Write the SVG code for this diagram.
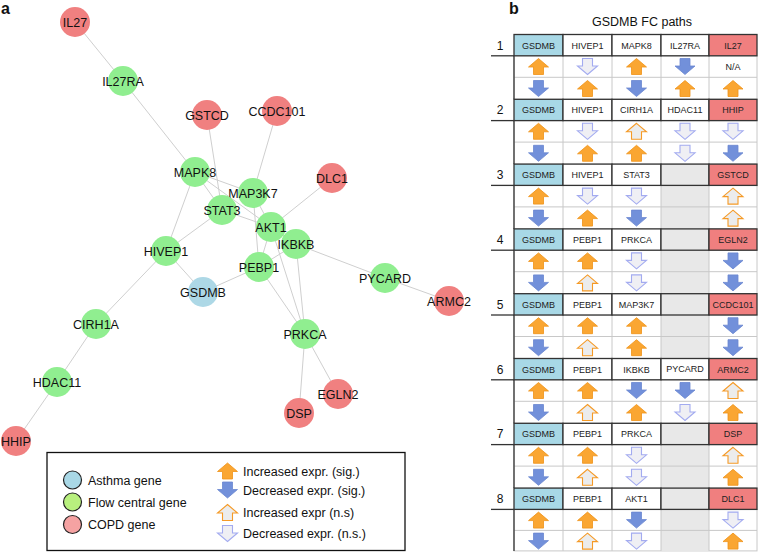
<svg xmlns="http://www.w3.org/2000/svg" xmlns:xlink="http://www.w3.org/1999/xlink" width="759" height="552" viewBox="0 0 759 552">
<style>
text{font-family:"Liberation Sans",Arial,sans-serif;fill:#111}
.nl{font-size:12.5px;text-anchor:middle}
.edge{stroke:#cfcfcf;stroke-width:1;fill:none}
.g{fill:#90ee90}.r{fill:#f08080}.b{fill:#add8e6}
.ct{font-size:9px;text-anchor:middle;fill:#222}
.hd{stroke:#333;stroke-width:1.3}
.lt{stroke:#c8c8c8;stroke-width:1;fill:none}
.uf{fill:#faa632;stroke:#ef9217;stroke-width:0.8}
.df{fill:#7290da;stroke:#6a86d0;stroke-width:0.8}
.uh{fill:#ececec;stroke:#f59a26;stroke-width:1.1}
.dh{fill:#efeff4;stroke:#a3abf0;stroke-width:1.1}
.gb{fill:#a8d8e6}.cr{fill:#f07f7f}.em{fill:#e8e8e8}.wh{fill:#fff}
.lg{font-size:12.5px}
</style>
<defs>
<path id="up" d="M0,-8 L10,0.5 L5,0.5 L5,8 L-5,8 L-5,0.5 L-10,0.5 Z"/>
<path id="dn" d="M0,8 L10,-0.5 L5,-0.5 L5,-8 L-5,-8 L-5,-0.5 L-10,-0.5 Z"/>
</defs>
<rect width="759" height="552" fill="#fff"/>
<text x="1" y="14" style="font-size:16px;font-weight:bold">a</text>
<text x="509" y="14" style="font-size:16px;font-weight:bold">b</text>

<g id="connectors">
<line class="edge" x1="75" y1="22" x2="123" y2="81"/>
<line class="edge" x1="123" y1="81" x2="195" y2="172"/>
<line class="edge" x1="207" y1="115" x2="222" y2="210"/>
<line class="edge" x1="277" y1="111" x2="253" y2="193"/>
<line class="edge" x1="332" y1="178" x2="271" y2="227"/>
<line class="edge" x1="195" y1="172" x2="253" y2="193"/>
<line class="edge" x1="195" y1="172" x2="222" y2="210"/>
<line class="edge" x1="195" y1="172" x2="271" y2="227"/>
<line class="edge" x1="195" y1="172" x2="166" y2="251"/>
<line class="edge" x1="222" y1="210" x2="271" y2="227"/>
<line class="edge" x1="222" y1="210" x2="166" y2="251"/>
<line class="edge" x1="253" y1="193" x2="271" y2="227"/>
<line class="edge" x1="253" y1="193" x2="259" y2="267"/>
<line class="edge" x1="271" y1="227" x2="259" y2="267"/>
<line class="edge" x1="271" y1="227" x2="296" y2="244"/>
<line class="edge" x1="271" y1="227" x2="305" y2="334"/>
<line class="edge" x1="296" y1="244" x2="305" y2="334"/>
<line class="edge" x1="259" y1="267" x2="305" y2="334"/>
<line class="edge" x1="259" y1="267" x2="296" y2="244"/>
<line class="edge" x1="296" y1="244" x2="385" y2="278"/>
<line class="edge" x1="385" y1="278" x2="449" y2="301"/>
<line class="edge" x1="305" y1="334" x2="338" y2="394"/>
<line class="edge" x1="305" y1="334" x2="299" y2="413"/>
<line class="edge" x1="166" y1="251" x2="203" y2="292"/>
<line class="edge" x1="203" y1="292" x2="259" y2="267"/>
<line class="edge" x1="166" y1="251" x2="96" y2="324"/>
<line class="edge" x1="96" y1="324" x2="57" y2="382"/>
<line class="edge" x1="57" y1="382" x2="16" y2="441"/>
</g>

<g id="IL27"><circle class="r" cx="75" cy="22" r="15"/><text class="nl" x="75" y="26.5">IL27</text></g>
<g id="IL27RA"><circle class="g" cx="123" cy="81" r="15"/><text class="nl" x="123" y="85.5">IL27RA</text></g>
<g id="GSTCD"><circle class="r" cx="207" cy="115" r="15"/><text class="nl" x="207" y="119.5">GSTCD</text></g>
<g id="CCDC101"><circle class="r" cx="277" cy="111" r="15"/><text class="nl" x="277" y="115.5">CCDC101</text></g>
<g id="DLC1"><circle class="r" cx="332" cy="178" r="15"/><text class="nl" x="332" y="182.5">DLC1</text></g>
<g id="MAPK8"><circle class="g" cx="195" cy="172" r="15"/><text class="nl" x="195" y="176.5">MAPK8</text></g>
<g id="MAP3K7"><circle class="g" cx="253" cy="193" r="15"/><text class="nl" x="253" y="197.5">MAP3K7</text></g>
<g id="STAT3"><circle class="g" cx="222" cy="210" r="15"/><text class="nl" x="222" y="214.5">STAT3</text></g>
<g id="AKT1"><circle class="g" cx="271" cy="227" r="15"/><text class="nl" x="271" y="231.5">AKT1</text></g>
<g id="IKBKB"><circle class="g" cx="296" cy="244" r="15"/><text class="nl" x="296" y="248.5">IKBKB</text></g>
<g id="PEBP1"><circle class="g" cx="259" cy="267" r="15"/><text class="nl" x="259" y="271.5">PEBP1</text></g>
<g id="HIVEP1"><circle class="g" cx="166" cy="251" r="15"/><text class="nl" x="166" y="255.5">HIVEP1</text></g>
<g id="GSDMB"><circle class="b" cx="203" cy="292" r="15"/><text class="nl" x="203" y="296.5">GSDMB</text></g>
<g id="PYCARD"><circle class="g" cx="385" cy="278" r="15"/><text class="nl" x="385" y="282.5">PYCARD</text></g>
<g id="ARMC2"><circle class="r" cx="449" cy="301" r="15"/><text class="nl" x="449" y="305.5">ARMC2</text></g>
<g id="PRKCA"><circle class="g" cx="305" cy="334" r="15"/><text class="nl" x="305" y="338.5">PRKCA</text></g>
<g id="EGLN2"><circle class="r" cx="338" cy="394" r="15"/><text class="nl" x="338" y="398.5">EGLN2</text></g>
<g id="DSP"><circle class="r" cx="299" cy="413" r="15"/><text class="nl" x="299" y="417.5">DSP</text></g>
<g id="CIRH1A"><circle class="g" cx="96" cy="324" r="15"/><text class="nl" x="96" y="328.5">CIRH1A</text></g>
<g id="HDAC11"><circle class="g" cx="57" cy="382" r="15"/><text class="nl" x="57" y="386.5">HDAC11</text></g>
<g id="HHIP"><circle class="r" cx="16" cy="441" r="15"/><text class="nl" x="16" y="445.5">HHIP</text></g>

<g id="legend">
<rect x="47" y="452.5" width="358" height="98" fill="#fff" stroke="#111" stroke-width="1.3"/>
<circle cx="72.5" cy="480" r="9" fill="#a9d8e6" stroke="#222" stroke-width="1.2"/>
<circle cx="72.5" cy="502" r="9" fill="#b8f07e" stroke="#222" stroke-width="1.2"/>
<circle cx="72.5" cy="524.5" r="9" fill="#f5a2a2" stroke="#222" stroke-width="1.2"/>
<text class="lg" x="88" y="484.5">Asthma gene</text>
<text class="lg" x="88" y="506.5">Flow central gene</text>
<text class="lg" x="88" y="529">COPD gene</text>
<use href="#up" class="uf" x="227.5" y="471"/>
<use href="#dn" class="df" x="227.5" y="490"/>
<use href="#up" class="uh" x="227.5" y="512.5"/>
<use href="#dn" class="dh" x="227.5" y="533.5"/>
<text class="lg" x="243" y="475.5">Increased expr. (sig.)</text>
<text class="lg" x="243" y="494.5">Decreased expr. (sig.)</text>
<text class="lg" x="243" y="517">Increased expr (n.s)</text>
<text class="lg" x="243" y="538">Decreased expr. (n.s.)</text>
</g>

<g id="table">
<text x="642" y="26" style="font-size:12.5px;text-anchor:middle">GSDMB FC paths</text>
<g id="p1" transform="translate(0,34.5)">
<rect class="wh lt" x="514" y="21.3" width="243" height="43.5"/>
<line class="lt" x1="514" y1="42.8" x2="757" y2="42.8"/>
<path class="lt" d="M563,21.3V64.8M612,21.3V64.8M661,21.3V64.8M709,21.3V64.8"/>
<line class="hd" x1="514" y1="21.3" x2="514" y2="64.8"/>
<rect class="gb hd" x="514" y="0" width="49" height="21.3"/><rect class="wh hd" x="563" y="0" width="49" height="21.3"/><rect class="wh hd" x="612" y="0" width="49" height="21.3"/><rect class="wh hd" x="661" y="0" width="48" height="21.3"/><rect class="cr hd" x="709" y="0" width="48" height="21.3"/>
<text class="ct" x="538.5" y="14">GSDMB</text><text class="ct" x="587.5" y="14">HIVEP1</text><text class="ct" x="636.5" y="14">MAPK8</text><text class="ct" x="685" y="14">IL27RA</text><text class="ct" x="733" y="14">IL27</text>
<text x="500" y="15" style="font-size:12px;text-anchor:middle">1</text><line class="hd" x1="491" y1="21.3" x2="514" y2="21.3"/>
<use href="#up" class="uf" x="538.5" y="32"/><use href="#dn" class="dh" x="587.5" y="32"/><use href="#up" class="uf" x="636.5" y="32"/><use href="#dn" class="df" x="685" y="32"/><text class="ct" x="733" y="35.5">N/A</text>
<use href="#dn" class="df" x="538.5" y="54"/><use href="#up" class="uf" x="587.5" y="54"/><use href="#dn" class="df" x="636.5" y="54"/><use href="#up" class="uf" x="685" y="54"/><use href="#up" class="uf" x="733" y="54"/>
</g>
<g id="p2" transform="translate(0,99.3)">
<rect class="wh lt" x="514" y="21.3" width="243" height="43.5"/>
<line class="lt" x1="514" y1="42.8" x2="757" y2="42.8"/>
<path class="lt" d="M563,21.3V64.8M612,21.3V64.8M661,21.3V64.8M709,21.3V64.8"/>
<line class="hd" x1="514" y1="21.3" x2="514" y2="64.8"/>
<rect class="gb hd" x="514" y="0" width="49" height="21.3"/><rect class="wh hd" x="563" y="0" width="49" height="21.3"/><rect class="wh hd" x="612" y="0" width="49" height="21.3"/><rect class="wh hd" x="661" y="0" width="48" height="21.3"/><rect class="cr hd" x="709" y="0" width="48" height="21.3"/>
<text class="ct" x="538.5" y="14">GSDMB</text><text class="ct" x="587.5" y="14">HIVEP1</text><text class="ct" x="636.5" y="14">CIRH1A</text><text class="ct" x="685" y="14">HDAC11</text><text class="ct" x="733" y="14">HHIP</text>
<text x="500" y="15" style="font-size:12px;text-anchor:middle">2</text><line class="hd" x1="491" y1="21.3" x2="514" y2="21.3"/>
<use href="#up" class="uf" x="538.5" y="32"/><use href="#dn" class="dh" x="587.5" y="32"/><use href="#up" class="uh" x="636.5" y="32"/><use href="#dn" class="dh" x="685" y="32"/><use href="#dn" class="dh" x="733" y="32"/>
<use href="#dn" class="df" x="538.5" y="54"/><use href="#up" class="uf" x="587.5" y="54"/><use href="#up" class="uf" x="636.5" y="54"/><use href="#dn" class="dh" x="685" y="54"/><use href="#dn" class="df" x="733" y="54"/>
</g>
<g id="p3" transform="translate(0,164.1)">
<rect class="wh lt" x="514" y="21.3" width="243" height="43.5"/>
<rect class="em" x="661" y="21.3" width="48" height="43.5"/>
<line class="lt" x1="514" y1="42.8" x2="757" y2="42.8"/>
<path class="lt" d="M563,21.3V64.8M612,21.3V64.8M661,21.3V64.8M709,21.3V64.8"/>
<line class="hd" x1="514" y1="21.3" x2="514" y2="64.8"/>
<rect class="gb hd" x="514" y="0" width="49" height="21.3"/><rect class="wh hd" x="563" y="0" width="49" height="21.3"/><rect class="wh hd" x="612" y="0" width="49" height="21.3"/><rect class="em hd" x="661" y="0" width="48" height="21.3"/><rect class="cr hd" x="709" y="0" width="48" height="21.3"/>
<text class="ct" x="538.5" y="14">GSDMB</text><text class="ct" x="587.5" y="14">HIVEP1</text><text class="ct" x="636.5" y="14">STAT3</text><text class="ct" x="733" y="14">GSTCD</text>
<text x="500" y="15" style="font-size:12px;text-anchor:middle">3</text><line class="hd" x1="491" y1="21.3" x2="514" y2="21.3"/>
<use href="#up" class="uf" x="538.5" y="32"/><use href="#dn" class="dh" x="587.5" y="32"/><use href="#dn" class="dh" x="636.5" y="32"/><use href="#up" class="uh" x="733" y="32"/>
<use href="#dn" class="df" x="538.5" y="54"/><use href="#up" class="uf" x="587.5" y="54"/><use href="#dn" class="df" x="636.5" y="54"/><use href="#up" class="uh" x="733" y="54"/>
</g>
<g id="p4" transform="translate(0,228.9)">
<rect class="wh lt" x="514" y="21.3" width="243" height="43.5"/>
<rect class="em" x="661" y="21.3" width="48" height="43.5"/>
<line class="lt" x1="514" y1="42.8" x2="757" y2="42.8"/>
<path class="lt" d="M563,21.3V64.8M612,21.3V64.8M661,21.3V64.8M709,21.3V64.8"/>
<line class="hd" x1="514" y1="21.3" x2="514" y2="64.8"/>
<rect class="gb hd" x="514" y="0" width="49" height="21.3"/><rect class="wh hd" x="563" y="0" width="49" height="21.3"/><rect class="wh hd" x="612" y="0" width="49" height="21.3"/><rect class="em hd" x="661" y="0" width="48" height="21.3"/><rect class="cr hd" x="709" y="0" width="48" height="21.3"/>
<text class="ct" x="538.5" y="14">GSDMB</text><text class="ct" x="587.5" y="14">PEBP1</text><text class="ct" x="636.5" y="14">PRKCA</text><text class="ct" x="733" y="14">EGLN2</text>
<text x="500" y="15" style="font-size:12px;text-anchor:middle">4</text><line class="hd" x1="491" y1="21.3" x2="514" y2="21.3"/>
<use href="#up" class="uf" x="538.5" y="32"/><use href="#up" class="uf" x="587.5" y="32"/><use href="#dn" class="dh" x="636.5" y="32"/><use href="#dn" class="df" x="733" y="32"/>
<use href="#dn" class="df" x="538.5" y="54"/><use href="#up" class="uh" x="587.5" y="54"/><use href="#dn" class="dh" x="636.5" y="54"/><use href="#dn" class="df" x="733" y="54"/>
</g>
<g id="p5" transform="translate(0,293.7)">
<rect class="wh lt" x="514" y="21.3" width="243" height="43.5"/>
<rect class="em" x="661" y="21.3" width="48" height="43.5"/>
<line class="lt" x1="514" y1="42.8" x2="757" y2="42.8"/>
<path class="lt" d="M563,21.3V64.8M612,21.3V64.8M661,21.3V64.8M709,21.3V64.8"/>
<line class="hd" x1="514" y1="21.3" x2="514" y2="64.8"/>
<rect class="gb hd" x="514" y="0" width="49" height="21.3"/><rect class="wh hd" x="563" y="0" width="49" height="21.3"/><rect class="wh hd" x="612" y="0" width="49" height="21.3"/><rect class="em hd" x="661" y="0" width="48" height="21.3"/><rect class="cr hd" x="709" y="0" width="48" height="21.3"/>
<text class="ct" x="538.5" y="14">GSDMB</text><text class="ct" x="587.5" y="14">PEBP1</text><text class="ct" x="636.5" y="14">MAP3K7</text><text class="ct" x="733" y="14">CCDC101</text>
<text x="500" y="15" style="font-size:12px;text-anchor:middle">5</text><line class="hd" x1="491" y1="21.3" x2="514" y2="21.3"/>
<use href="#up" class="uf" x="538.5" y="32"/><use href="#up" class="uf" x="587.5" y="32"/><use href="#up" class="uf" x="636.5" y="32"/><use href="#dn" class="df" x="733" y="32"/>
<use href="#dn" class="df" x="538.5" y="54"/><use href="#up" class="uh" x="587.5" y="54"/><use href="#up" class="uf" x="636.5" y="54"/><use href="#dn" class="df" x="733" y="54"/>
</g>
<g id="p6" transform="translate(0,358.5)">
<rect class="wh lt" x="514" y="21.3" width="243" height="43.5"/>
<line class="lt" x1="514" y1="42.8" x2="757" y2="42.8"/>
<path class="lt" d="M563,21.3V64.8M612,21.3V64.8M661,21.3V64.8M709,21.3V64.8"/>
<line class="hd" x1="514" y1="21.3" x2="514" y2="64.8"/>
<rect class="gb hd" x="514" y="0" width="49" height="21.3"/><rect class="wh hd" x="563" y="0" width="49" height="21.3"/><rect class="wh hd" x="612" y="0" width="49" height="21.3"/><rect class="wh hd" x="661" y="0" width="48" height="21.3"/><rect class="cr hd" x="709" y="0" width="48" height="21.3"/>
<text class="ct" x="538.5" y="14">GSDMB</text><text class="ct" x="587.5" y="14">PEBP1</text><text class="ct" x="636.5" y="14">IKBKB</text><text class="ct" x="685" y="13">PYCARD</text><text class="ct" x="733" y="14">ARMC2</text>
<text x="500" y="15" style="font-size:12px;text-anchor:middle">6</text><line class="hd" x1="491" y1="21.3" x2="514" y2="21.3"/>
<use href="#up" class="uf" x="538.5" y="32"/><use href="#up" class="uf" x="587.5" y="32"/><use href="#dn" class="df" x="636.5" y="32"/><use href="#dn" class="df" x="685" y="32"/><use href="#up" class="uh" x="733" y="32"/>
<use href="#dn" class="df" x="538.5" y="54"/><use href="#up" class="uh" x="587.5" y="54"/><use href="#up" class="uf" x="636.5" y="54"/><use href="#dn" class="dh" x="685" y="54"/><use href="#up" class="uf" x="733" y="54"/>
</g>
<g id="p7" transform="translate(0,423.3)">
<rect class="wh lt" x="514" y="21.3" width="243" height="43.5"/>
<rect class="em" x="661" y="21.3" width="48" height="43.5"/>
<line class="lt" x1="514" y1="42.8" x2="757" y2="42.8"/>
<path class="lt" d="M563,21.3V64.8M612,21.3V64.8M661,21.3V64.8M709,21.3V64.8"/>
<line class="hd" x1="514" y1="21.3" x2="514" y2="64.8"/>
<rect class="gb hd" x="514" y="0" width="49" height="21.3"/><rect class="wh hd" x="563" y="0" width="49" height="21.3"/><rect class="wh hd" x="612" y="0" width="49" height="21.3"/><rect class="em hd" x="661" y="0" width="48" height="21.3"/><rect class="cr hd" x="709" y="0" width="48" height="21.3"/>
<text class="ct" x="538.5" y="14">GSDMB</text><text class="ct" x="587.5" y="14">PEBP1</text><text class="ct" x="636.5" y="14">PRKCA</text><text class="ct" x="733" y="14">DSP</text>
<text x="500" y="15" style="font-size:12px;text-anchor:middle">7</text><line class="hd" x1="491" y1="21.3" x2="514" y2="21.3"/>
<use href="#up" class="uf" x="538.5" y="32"/><use href="#up" class="uf" x="587.5" y="32"/><use href="#dn" class="dh" x="636.5" y="32"/><use href="#up" class="uh" x="733" y="32"/>
<use href="#dn" class="df" x="538.5" y="54"/><use href="#up" class="uh" x="587.5" y="54"/><use href="#dn" class="dh" x="636.5" y="54"/><use href="#up" class="uf" x="733" y="54"/>
</g>
<g id="p8" transform="translate(0,488.1)">
<rect class="wh lt" x="514" y="21.3" width="243" height="41.5"/>
<rect class="em" x="661" y="21.3" width="48" height="41.5"/>
<line class="lt" x1="514" y1="42.3" x2="757" y2="42.3"/>
<path class="lt" d="M563,21.3V62.8M612,21.3V62.8M661,21.3V62.8M709,21.3V62.8"/>
<line class="hd" x1="514" y1="21.3" x2="514" y2="62.8"/>
<rect class="gb hd" x="514" y="0" width="49" height="21.3"/><rect class="wh hd" x="563" y="0" width="49" height="21.3"/><rect class="wh hd" x="612" y="0" width="49" height="21.3"/><rect class="em hd" x="661" y="0" width="48" height="21.3"/><rect class="cr hd" x="709" y="0" width="48" height="21.3"/>
<text class="ct" x="538.5" y="14">GSDMB</text><text class="ct" x="587.5" y="14">PEBP1</text><text class="ct" x="636.5" y="14">AKT1</text><text class="ct" x="733" y="14">DLC1</text>
<text x="500" y="15" style="font-size:12px;text-anchor:middle">8</text><line class="hd" x1="491" y1="21.3" x2="514" y2="21.3"/>
<use href="#up" class="uf" x="538.5" y="32"/><use href="#up" class="uf" x="587.5" y="32"/><use href="#dn" class="df" x="636.5" y="32"/><use href="#dn" class="dh" x="733" y="32"/>
<use href="#dn" class="df" x="538.5" y="53"/><use href="#up" class="uh" x="587.5" y="53"/><use href="#dn" class="dh" x="636.5" y="53"/><use href="#up" class="uf" x="733" y="53"/>
</g>
</g>
</svg>
